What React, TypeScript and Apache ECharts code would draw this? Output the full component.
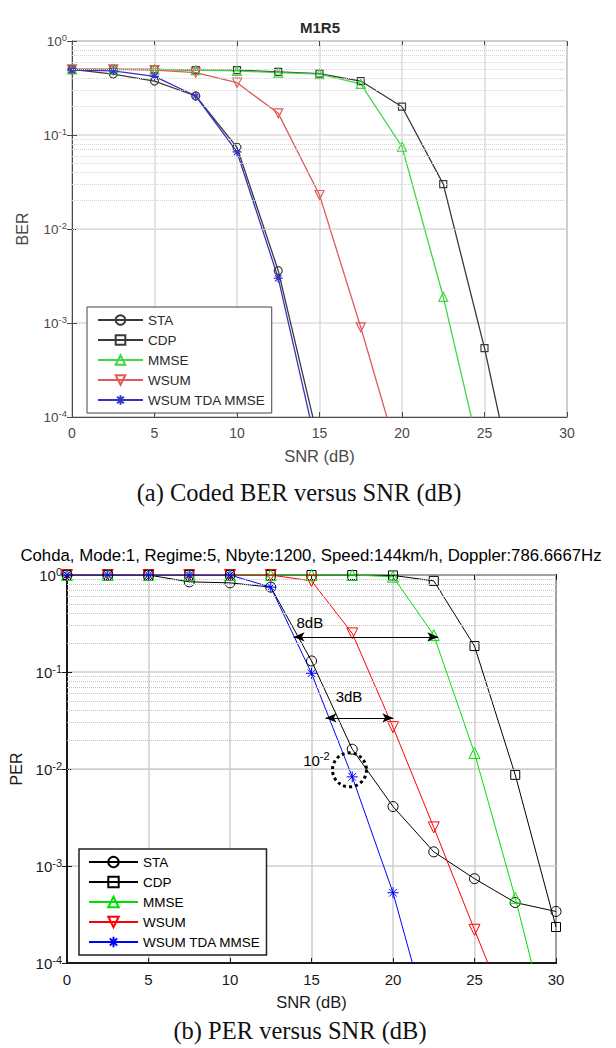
import { useEffect, useRef } from "react";
import * as echarts from "echarts";

// ---------- data ----------
const SNR = [0, 2.5, 5, 7.5, 10, 12.5, 15, 17.5, 20, 22.5, 25, 27.5, 30];
const X_TICKS = [0, 5, 10, 15, 20, 25, 30];

// (a) Coded BER
const BER_STA = [0.5, 0.445, 0.375, 0.26, 0.074, 0.0036, 0.00005];
const BER_CDP = [0.5, 0.5, 0.5, 0.49, 0.49, 0.47, 0.45, 0.375, 0.2, 0.03, 0.00054, 0.000005];
const BER_MMSE = [0.5, 0.5, 0.5, 0.49, 0.48, 0.46, 0.445, 0.35, 0.075, 0.0019, 0.000025];
const BER_WSUM = [0.5, 0.5, 0.49, 0.46, 0.36, 0.17, 0.023, 0.0009, 0.000028];
const BER_TDA = [0.49, 0.48, 0.42, 0.26, 0.066, 0.003, 0.000035];

// (b) PER
const PER_STA = [1, 1, 1, 0.85, 0.83, 0.75, 0.13, 0.016, 0.0041, 0.0014, 0.00074, 0.00042, 0.00034];
const PER_CDP = [1, 1, 1, 1, 1, 1, 1, 1, 0.99, 0.87, 0.185, 0.0087, 0.000235];
const PER_MMSE = [1, 1, 1, 1, 1, 1, 1, 1, 0.96, 0.24, 0.0146, 0.00047, 0.00001];
const PER_WSUM = [1, 1, 1, 1, 1, 1, 0.87, 0.25, 0.027, 0.0025, 0.00022, 0.00002];
const PER_TDA = [1, 1, 1, 1, 1, 0.75, 0.097, 0.0083, 0.00053, 0.000016];

const NAMES = ["STA", "CDP", "MMSE", "WSUM", "WSUM TDA MMSE"];
const MINOR_MULT = [2, 3, 4, 5, 6, 7, 8, 9];
const DECADES = [0.0001, 0.001, 0.01, 0.1];

// annotations (b)
const ARROW_8DB = { from: [13.9, 0.23], to: [22.78, 0.23] };
const ARROW_3DB = { from: [15.86, 0.0336], to: [20.02, 0.0336] };
const TEXT_8DB = [14.9, 0.325];
const TEXT_3DB = [17.3, 0.0555];
const TEXT_1E2 = [15.3, 0.0122];
const CIRCLE_PT = [17.33, 0.0098];

// ---------- styles ----------
const FONT = "Liberation Sans, Arial, Helvetica, sans-serif";
const SERIF = "Liberation Serif, Times New Roman, serif";
const STAR = "path://M5,0L5,10M0,5L10,5M1.5,1.5L8.5,8.5M1.5,8.5L8.5,1.5";
const SYMBOLS = ["circle", "rect", "triangle", "triangle", STAR];
const ROTATE = [0, 0, 0, 180, 0];
const COLORS_A = ["#3a3a3a", "#3a3a3a", "#40d840", "#e05a5a", "#3434c4"];
const COLORS_B = ["#000000", "#000000", "#00e000", "#ff0000", "#0000ff"];
const SIZES_A = [8, 7, 9, 9, 9];
const SIZES_B = [10, 9, 11, 11, 11];

const pairs = (vals: number[]) => vals.map((v, i) => [SNR[i], v]);

const minorLines = DECADES.flatMap((d) => MINOR_MULT.map((m) => ({ yAxis: +(d * m).toPrecision(3) })));

function yLabel(color: string, size: number, raise: number) {
  return {
    formatter: (v: number) => `{b|10}{s|${Math.round(Math.log10(v))}}`,
    margin: 5,
    rich: {
      b: { fontSize: size, color, fontFamily: FONT },
      s: { fontSize: size - 4, color, fontFamily: FONT, padding: [0, 0, raise, 0] },
    },
  };
}

function buildOption() {
  const dataA = [BER_STA, BER_CDP, BER_MMSE, BER_WSUM, BER_TDA];
  const dataB = [PER_STA, PER_CDP, PER_MMSE, PER_WSUM, PER_TDA];

  const seriesA = dataA.map((d, i) => ({
    type: "line",
    name: NAMES[i],
    xAxisIndex: 0,
    yAxisIndex: 0,
    data: pairs(d),
    symbol: SYMBOLS[i],
    symbolSize: SIZES_A[i],
    symbolRotate: ROTATE[i],
    showAllSymbol: true,
    clip: true,
    z: 3,
    lineStyle: { color: COLORS_A[i], width: 1.3 },
    itemStyle: { color: "rgba(255,255,255,0)", borderColor: COLORS_A[i], borderWidth: 1.2 },
    emphasis: { disabled: true },
  }));
  const seriesB = dataB.map((d, i) => ({
    type: "line",
    name: NAMES[i] + " ",
    xAxisIndex: 2,
    yAxisIndex: 2,
    data: pairs(d),
    symbol: SYMBOLS[i],
    symbolSize: SIZES_B[i],
    symbolRotate: ROTATE[i],
    showAllSymbol: true,
    clip: true,
    z: 3,
    lineStyle: { color: COLORS_B[i], width: 1 },
    itemStyle: { color: "rgba(255,255,255,0)", borderColor: COLORS_B[i], borderWidth: 1 },
    emphasis: { disabled: true },
  }));

  const gridSeries = (xi: number, yi: number, color: string) => ({
    type: "line",
    name: "_grid" + xi,
    xAxisIndex: xi,
    yAxisIndex: yi,
    data: [],
    z: 1,
    silent: true,
    markLine: {
      silent: true,
      symbol: ["none", "none"],
      label: { show: false },
      lineStyle: { type: "dotted", color, width: 1 },
      emphasis: { disabled: true },
      data: minorLines,
    },
  });

  const arrowLine = (a: { from: number[]; to: number[] }) => [
    { coord: a.from },
    { coord: a.to },
  ];
  const textPoint = (coord: number[], formatter: string) => ({
    coord,
    symbol: "circle",
    symbolSize: 1,
    itemStyle: { color: "rgba(0,0,0,0)" },
    label: {
      show: true,
      position: "inside",
      formatter,
      color: "#000",
      fontSize: 15,
      fontFamily: FONT,
      rich: {
        b: { fontSize: 15, color: "#000", fontFamily: FONT },
        s: { fontSize: 11, color: "#000", fontFamily: FONT, padding: [0, 0, 9, 0] },
      },
    },
  });

  const annot = {
    type: "line",
    name: "_annot",
    xAxisIndex: 2,
    yAxisIndex: 2,
    data: [],
    z: 5,
    silent: true,
    markLine: {
      silent: true,
      symbol: ["arrow", "arrow"],
      symbolSize: [7, 11],
      label: { show: false },
      lineStyle: { type: "solid", color: "#000", width: 1.2 },
      emphasis: { disabled: true },
      data: [arrowLine(ARROW_8DB), arrowLine(ARROW_3DB)],
    },
    markPoint: {
      silent: true,
      emphasis: { disabled: true },
      data: [
        textPoint(TEXT_8DB, "8dB"),
        textPoint(TEXT_3DB, "3dB"),
        textPoint(TEXT_1E2, "{b|10}{s|-2}"),
        {
          coord: CIRCLE_PT,
          symbol: "circle",
          symbolSize: 34,
          label: { show: false },
          itemStyle: { color: "rgba(0,0,0,0)", borderColor: "#000", borderWidth: 3, borderType: "dotted" },
        },
      ],
    },
  };

  const xAxisBase = (grid: number, color: string, lw: number, fs: number, nfs: number, split: string) => ({
    gridIndex: grid,
    type: "value",
    min: X_TICKS[0],
    max: X_TICKS[X_TICKS.length - 1],
    interval: 5,
    axisLine: { show: true, lineStyle: { color, width: lw } },
    axisTick: { show: true, inside: true, length: 5, lineStyle: { color, width: 1 } },
    axisLabel: { color, fontSize: fs, fontFamily: FONT, margin: 9 },
    splitLine: { show: true, lineStyle: { color: split, width: 1.5 } },
    name: "SNR (dB)",
    nameLocation: "middle",
    nameGap: 30,
    nameTextStyle: { color, fontSize: nfs, fontFamily: FONT },
  });
  const xAxisTop = (grid: number, color: string) => ({
    gridIndex: grid,
    type: "value",
    position: "top",
    min: 0,
    max: 30,
    interval: 5,
    axisLine: { show: false },
    axisTick: { show: true, inside: true, length: 5, lineStyle: { color } },
    axisLabel: { show: false },
    splitLine: { show: false },
  });
  const yAxisBase = (grid: number, color: string, lw: number, fs: number, nfs: number, split: string, name: string, gap: number, raise: number) => ({
    gridIndex: grid,
    type: "log",
    logBase: 10,
    min: 0.0001,
    max: 1,
    splitNumber: 4,
    axisLine: { show: true, lineStyle: { color, width: lw } },
    axisTick: { show: true, inside: true, length: 5, lineStyle: { color } },
    axisLabel: yLabel(color, fs, raise),
    splitLine: { show: true, lineStyle: { color: split, width: 1.5 } },
    minorTick: { show: false },
    name,
    nameLocation: "middle",
    nameGap: gap,
    nameTextStyle: { color, fontSize: nfs, fontFamily: FONT },
  });
  const yAxisRight = (grid: number, color: string) => ({
    gridIndex: grid,
    type: "log",
    logBase: 10,
    min: 0.0001,
    max: 1,
    splitNumber: 4,
    position: "right",
    axisLine: { show: false },
    axisTick: { show: true, inside: true, length: 5, lineStyle: { color } },
    axisLabel: { show: false },
    splitLine: { show: false },
  });

  const legendBase = {
    orient: "vertical",
    backgroundColor: "#fff",
    itemGap: 6,
    selectedMode: false,
  };

  return {
    animation: false,
    backgroundColor: "#fff",
    textStyle: { fontFamily: FONT },
    grid: [
      { left: 72, top: 41, width: 495, height: 376, show: true, borderColor: "#4a4a4a", borderWidth: 1, backgroundColor: "rgba(0,0,0,0)" },
      { left: 66, top: 575, width: 490, height: 388, show: true, borderColor: "#1a1a1a", borderWidth: 2, backgroundColor: "rgba(0,0,0,0)" },
    ],
    xAxis: [
      xAxisBase(0, "#4a4a4a", 1, 14, 16.5, "#dcdcdc"),
      xAxisTop(0, "#4a4a4a"),
      xAxisBase(1, "#1a1a1a", 2, 15, 16.5, "#cfcfcf"),
      xAxisTop(1, "#1a1a1a"),
    ],
    yAxis: [
      yAxisBase(0, "#4a4a4a", 1, 13.5, 16, "#dcdcdc", "BER", 42, 8),
      yAxisRight(0, "#4a4a4a"),
      yAxisBase(1, "#1a1a1a", 2, 15, 16, "#cfcfcf", "PER", 43, 7),
      yAxisRight(1, "#1a1a1a"),
    ],
    legend: [
      {
        ...legendBase,
        data: NAMES,
        left: 87,
        top: 307,
        padding: [6, 6, 6, 10],
        itemWidth: 45,
        itemHeight: 12,
        borderColor: "#444",
        borderWidth: 1,
        textStyle: { fontSize: 13.5, color: "#2a2a2a", fontFamily: FONT },
      },
      {
        ...legendBase,
        data: NAMES.map((n) => n + " "),
        left: 79,
        top: 849,
        padding: [6, 2, 6, 9],
        itemWidth: 49,
        itemHeight: 13,
        borderColor: "#222",
        borderWidth: 1.5,
        textStyle: { fontSize: 13.5, color: "#000", fontFamily: FONT },
      },
    ],
    graphic: [
      { type: "text", x: 320, y: 27, style: { text: "M1R5", font: `bold 15px ${FONT}`, fill: "#2a2a2a", align: "center", verticalAlign: "middle" } },
      { type: "text", x: 311, y: 555, style: { text: "Cohda, Mode:1, Regime:5, Nbyte:1200, Speed:144km/h, Doppler:786.6667Hz", font: `16.8px ${FONT}`, fill: "#000", align: "center", verticalAlign: "middle" } },
      { type: "text", x: 299, y: 492, style: { text: "(a) Coded BER versus SNR (dB)", font: `24.5px ${SERIF}`, fill: "#111", align: "center", verticalAlign: "middle" } },
      { type: "text", x: 300, y: 1030, style: { text: "(b) PER versus SNR (dB)", font: `24.5px ${SERIF}`, fill: "#111", align: "center", verticalAlign: "middle" } },
    ],
    series: [
      gridSeries(0, 0, "#d2d2d2"),
      gridSeries(2, 2, "#c2c2c2"),
      ...seriesA,
      ...seriesB,
      annot,
    ],
  };
}

export default function App() {
  const ref = useRef<HTMLDivElement>(null);
  useEffect(() => {
    document.body.style.margin = "0";
    const chart = echarts.init(ref.current as HTMLDivElement, null, { renderer: "svg" });
    chart.setOption(buildOption() as any);
    return () => chart.dispose();
  }, []);
  return <div ref={ref} style={{ width: 616, height: 1048, position: "absolute", left: 0, top: 0 }} />;
}
